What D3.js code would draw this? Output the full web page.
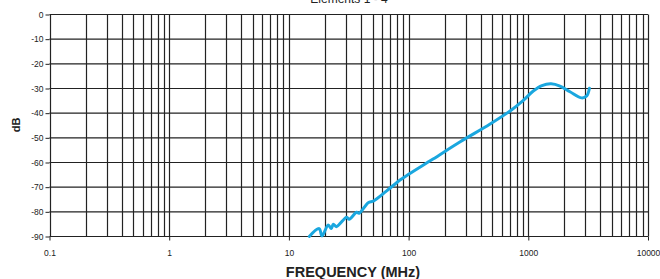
<!DOCTYPE html>
<html>
<head>
<meta charset="utf-8">
<script src="https://cdn.jsdelivr.net/npm/d3@7"></script>
<style>
  body { margin: 0; background: #fff; }
  text { font-family: "Liberation Sans", Arial, sans-serif; fill: #222; }
</style>
</head>
<body>
<div id="chart"></div>
<script>
// frequency in MHz, response in dB
const freq = [14.8, 17.9, 18.9, 21.3, 22.6, 23.5, 24.9, 30.4, 31.9, 36.8, 38.6, 46, 51, 65.6, 84.8, 100, 160,
    270, 480, 700, 904, 1100, 1300, 1550, 1840, 2228, 2792, 3075, 3240];
const dB = [-90, -86.8, -89.8, -85.3, -86.8, -85, -86, -82.2, -83, -80.2, -80.6, -76.3, -75.6, -71.5, -67.1, -64.8, -58.6,
    -51.6, -44.4, -39.2, -34.9, -31, -28.8, -28.1, -29, -31.3, -33.8, -33, -29.9];
const xTicks = [0.1, 1, 10, 100, 1000, 10000];
const yTicks = [0, -10, -20, -30, -40, -50, -60, -70, -80, -90];

const width = 660,
    height = 279,
    margin = {top: 14.5, right: 12, bottom: 42.5, left: 49.5};

const svg = d3.select("#chart")
    .append("svg")
    .attr("width", width)
    .attr("height", height);

const x = d3.scaleLog()
    .domain([0.1, 10000])
    .range([margin.left, width - margin.right]);

const y = d3.scaleLinear()
    .domain([-90, 0])
    .range([height - margin.bottom, margin.top]);

// minor + major vertical grid
const vLines = [];
for (let dec = 0.1; dec < 10000; dec *= 10) {
    for (let k = 1; k < 10; k++) vLines.push(dec * k);
}
vLines.push(10000);

svg.append("g")
    .selectAll("line")
    .data(vLines)
    .enter()
    .append("line")
    .attr("x1", d => Math.round(x(d)) + 0.5)
    .attr("x2", d => Math.round(x(d)) + 0.5)
    .attr("y1", y(0))
    .attr("y2", y(-90))
    .attr("stroke", "#222")
    .attr("stroke-width", 1.2);

svg.append("g")
    .selectAll("line")
    .data(yTicks)
    .enter()
    .append("line")
    .attr("x1", x(0.1))
    .attr("x2", x(10000))
    .attr("y1", d => y(d))
    .attr("y2", d => y(d))
    .attr("stroke", "#222")
    .attr("stroke-width", 1.2);

// axes
svg.append("g")
    .attr("transform", `translate(0,${y(-90)})`)
    .call(d3.axisBottom(x).tickValues(xTicks).tickSize(4).tickFormat(d => String(d)))
    .call(g => g.select(".domain").remove())
    .call(g => g.selectAll("line").attr("stroke", "#222"))
    .call(g => g.selectAll("text").attr("font-size", "8.5px").attr("dy", "1.5em"));

svg.append("g")
    .attr("transform", `translate(${x(0.1)},0)`)
    .call(d3.axisLeft(y).tickValues(yTicks).tickSize(4).tickFormat(d => String(d)))
    .call(g => g.select(".domain").remove())
    .call(g => g.selectAll("line").attr("stroke", "#222"))
    .call(g => g.selectAll("text").attr("font-size", "8.5px").attr("x", -6));

// curve
const pts = freq.map((f, i) => [f, dB[i]]);
svg.append("path")
    .datum(pts)
    .attr("fill", "none")
    .attr("stroke", "#1aa7df")
    .attr("stroke-width", 3)
    .attr("stroke-linejoin", "round")
    .attr("stroke-linecap", "round")
    .attr("d", d3.line()
        .x(d => x(d[0]))
        .y(d => y(d[1]))
        .curve(d3.curveCatmullRom));

// labels
svg.append("text")
    .text("Elements 1 - 4")
    .attr("x", 349)
    .attr("y", 3)
    .attr("text-anchor", "middle")
    .attr("font-size", "12px");

svg.append("text")
    .text("FREQUENCY (MHz)")
    .attr("x", 353)
    .attr("y", 277)
    .attr("text-anchor", "middle")
    .attr("font-size", "14.5px")
    .attr("font-weight", "bold");

svg.append("text")
    .text("dB")
    .attr("transform", "translate(20,125) rotate(-90)")
    .attr("text-anchor", "middle")
    .attr("font-size", "11px")
    .attr("font-weight", "bold");
</script>
</body>
</html>
